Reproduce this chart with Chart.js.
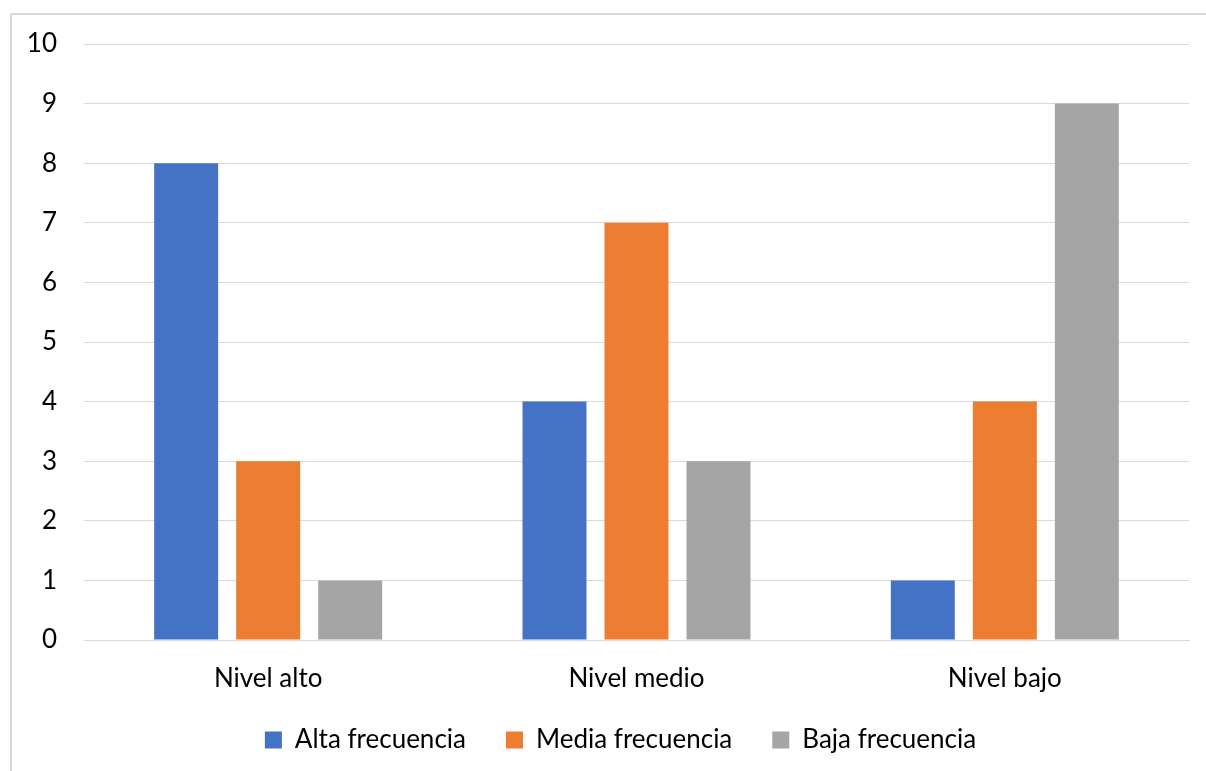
<!DOCTYPE html>
<html>
<head>
<meta charset="utf-8">
<script src="https://cdn.jsdelivr.net/npm/chart.js@4"></script>
<style>
  html, body { margin: 0; padding: 0; background: #fff; }
  #wrap { width: 1206px; height: 771px; position: relative; }
</style>
</head>
<body>
<div id="wrap"><canvas id="chart" width="1206" height="771"></canvas></div>
<script>
const categories = ['Nivel alto', 'Nivel medio', 'Nivel bajo'];
const seriesNames = ['Alta frecuencia', 'Media frecuencia', 'Baja frecuencia'];
const altaValues = [8, 4, 1];
const mediaValues = [3, 7, 4];
const bajaValues = [1, 3, 9];
const seriesColors = ['#4472C4', '#ED7D31', '#A5A5A5'];

// outer frame like the spreadsheet chart border
const framePlugin = {
  id: 'frame',
  beforeDraw(chart) {
    const c = chart.ctx;
    c.save();
    c.fillStyle = '#fff';
    c.fillRect(0, 0, chart.width, chart.height);
    c.strokeStyle = '#D9D9D9';
    c.lineWidth = 2;
    c.strokeRect(11, 14, chart.width + 10, chart.height + 10);
    c.restore();
  }
};

// legend keeps its wide item gaps but sits a bit higher and right
const legendFit = {
  id: 'legendFit',
  beforeInit(chart) {
    const fit = chart.legend.fit;
    chart.legend.fit = function () {
      fit.bind(chart.legend)();
      this.height = 71;
    };
  },
  afterLayout(chart) {
    const lg = chart.legend;
    lg.top -= 13;
    lg.bottom -= 13;
    lg.left += 26;
    lg.right += 26;
  }
};

const font = { family: 'Lato, "Open Sans", sans-serif', size: 26 };

new Chart(document.getElementById('chart'), {
  type: 'bar',
  data: {
    labels: categories,
    datasets: [altaValues, mediaValues, bajaValues].map((vals, i) => ({
      label: seriesNames[i],
      data: vals,
      backgroundColor: seriesColors[i],
      borderWidth: 0,
      categoryPercentage: 0.668,
      barPercentage: 0.78
    }))
  },
  options: {
    responsive: false,
    animation: false,
    layout: { padding: { left: 0, right: 17, top: 44, bottom: 0 } },
    plugins: {
      legend: {
        position: 'bottom',
        labels: {
          color: '#000',
          font,
          boxWidth: 17,
          boxHeight: 17,
          padding: 40
        }
      },
      tooltip: { enabled: false }
    },
    scales: {
      x: {
        grid: { display: false },
        border: { color: '#D9D9D9', width: 1 },
        ticks: { color: '#000', font, padding: 15 },
        afterFit(scale) { scale.height = 60; }
      },
      y: {
        min: 0,
        max: 10,
        ticks: { stepSize: 1, color: '#000', font, padding: 27 },
        grid: { color: '#D9D9D9', lineWidth: 1, drawTicks: false },
        border: { display: false },
        afterFit(scale) { scale.width = 84; }
      }
    }
  },
  plugins: [framePlugin, legendFit]
});
</script>
</body>
</html>
